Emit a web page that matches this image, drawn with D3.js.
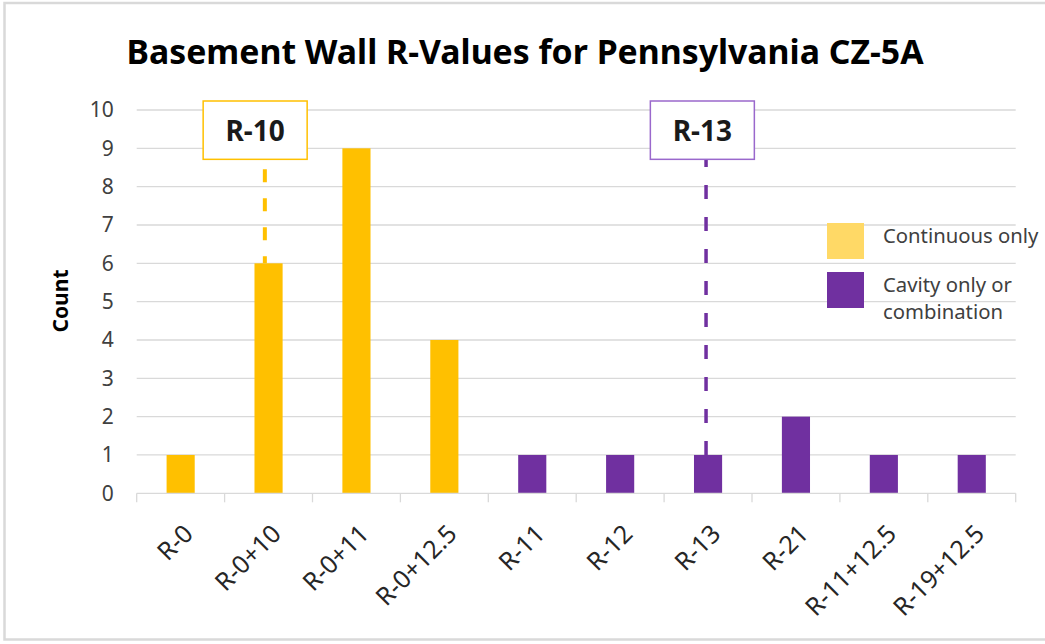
<!DOCTYPE html>
<html><head><meta charset="utf-8">
<script src="https://cdn.jsdelivr.net/npm/d3@7"></script>
<style>body{margin:0;background:#fff} text{font-family:"Noto Sans","Open Sans",sans-serif}</style>
</head><body><svg id="c" width="1045" height="644"></svg>
<script>
const title = "Basement Wall R-Values for Pennsylvania CZ-5A";
const yLabel = "Count";
const categories = ["R-0","R-0+10","R-0+11","R-0+12.5","R-11","R-12","R-13","R-21","R-11+12.5","R-19+12.5"];
const counts = [1,6,9,4,1,1,1,2,1,1];
const seriesIndex = [0,0,0,0,1,1,1,1,1,1];
const seriesNames = ["Continuous only","Cavity only or combination"];
const legendLines = [["Continuous only"],["Cavity only or","combination"]];
const yTicks = [0,1,2,3,4,5,6,7,8,9,10];
const annotationLabels = ["R-10","R-13"];
const annotationCategories = ["R-0+10","R-13"];
const annotationSeries = [0,1];

const barColors = ["#FFC000","#7030A0"];
const legendColors = ["#FFD966","#7030A0"];
const boxColors = ["#FFC000","#9A68CC"];
const FONT = '"Noto Sans","Open Sans",sans-serif';

const svg = d3.select("#c");
svg.append("rect").attr("x",4.5).attr("y",3).attr("width",1050).attr("height",636.5)
  .attr("fill","#fff").attr("stroke","#d9d9d9").attr("stroke-width",2.5);

const x0 = 136.7, x1 = 1015.7, yTop = 110, yBot = 493.3;
const x = d3.scaleBand().domain(categories).range([x0,x1]).padding(0);
const y = d3.scaleLinear().domain([0,10]).range([yBot,yTop]);
const bw = x.bandwidth()*0.32;

// gridlines
svg.append("g").selectAll("line").data(yTicks.filter(d=>d>0)).join("line")
  .attr("x1",x0).attr("x2",x1).attr("y1",d=>y(d)).attr("y2",d=>y(d))
  .attr("stroke","#d9d9d9").attr("stroke-width",1.3);

// y axis labels
const ya = svg.append("g").attr("transform",`translate(${x0-23},0)`)
  .call(d3.axisLeft(y).tickValues(yTicks).tickSize(0).tickPadding(0));
ya.select(".domain").remove();
ya.selectAll("text").attr("font-size",21).attr("fill","#404040").style("font-family",FONT);

// bars
svg.append("g").selectAll("rect").data(categories).join("rect")
  .attr("x",(d)=>x(d)+x.bandwidth()/2-bw/2).attr("width",bw)
  .attr("y",(d,i)=>y(counts[i])).attr("height",(d,i)=>y(0)-y(counts[i]))
  .attr("fill",(d,i)=>barColors[seriesIndex[i]]);

// x axis
svg.append("line").attr("x1",x0).attr("x2",x1).attr("y1",yBot).attr("y2",yBot)
  .attr("stroke","#d9d9d9").attr("stroke-width",1.3);
const bounds = categories.map(c=>x(c)).concat([x1]);
svg.append("g").selectAll("line").data(bounds).join("line")
  .attr("x1",d=>d).attr("x2",d=>d).attr("y1",yBot).attr("y2",yBot+9)
  .attr("stroke","#d9d9d9").attr("stroke-width",1.3);
svg.append("g").selectAll("text").data(categories).join("text")
  .attr("transform",d=>`translate(${x(d)+x.bandwidth()/2+14},${yBot+42}) rotate(-45)`)
  .attr("text-anchor","end").attr("font-size",25).attr("fill","#262626").text(d=>d);

// annotations
annotationLabels.forEach((lab,k)=>{
  const c = annotationCategories[k];
  const i = categories.indexOf(c);
  const cx = x(c)+x.bandwidth()/2;
  const boxCx = cx + (k===0 ? -13.4 : -5.7);
  const lineX = cx + (k===0 ? -3.7 : -2);
  const bTop = y(10)-9, bBot = y(8.7)-0.5;
  svg.append("line").attr("x1",lineX).attr("x2",lineX).attr("y1",y(counts[i])).attr("y2",bBot)
    .attr("stroke",barColors[annotationSeries[k]]).attr("stroke-width",k===0?4:3.5)
    .attr("stroke-dasharray",k===0?"13,16":"14,18").attr("stroke-dashoffset",k===0?6:0);
  svg.append("rect").attr("x",boxCx-52).attr("y",bTop).attr("width",104).attr("height",bBot-bTop)
    .attr("fill","#fff").attr("stroke",boxColors[annotationSeries[k]]).attr("stroke-width",1.5);
  svg.append("text").attr("x",boxCx).attr("y",bTop+40).attr("text-anchor","middle")
    .attr("font-size",28).attr("font-weight","bold").attr("fill","#1a1a1a").text(lab);
});

// legend
const lg = svg.append("g");
const legendY = [223,272];
seriesNames.forEach((s,k)=>{
  lg.append("rect").attr("x",827).attr("y",legendY[k]).attr("width",37).attr("height",36).attr("fill",legendColors[k]);
  legendLines[k].forEach((ln,j)=>{
    lg.append("text").attr("x",883).attr("y",legendY[k]+19.7+j*27.5).attr("font-size",20.3).attr("fill","#404040").text(ln);
  });
});

// title
svg.append("text").attr("x",525).attr("y",63.5).attr("text-anchor","middle")
  .attr("font-size",33.8).attr("font-weight","bold").attr("fill","#000").text(title);
svg.append("text").attr("transform",`translate(68,301) rotate(-90)`).attr("text-anchor","middle")
  .attr("font-size",21).attr("font-weight","bold").attr("fill","#000").text(yLabel);
</script></body></html>
